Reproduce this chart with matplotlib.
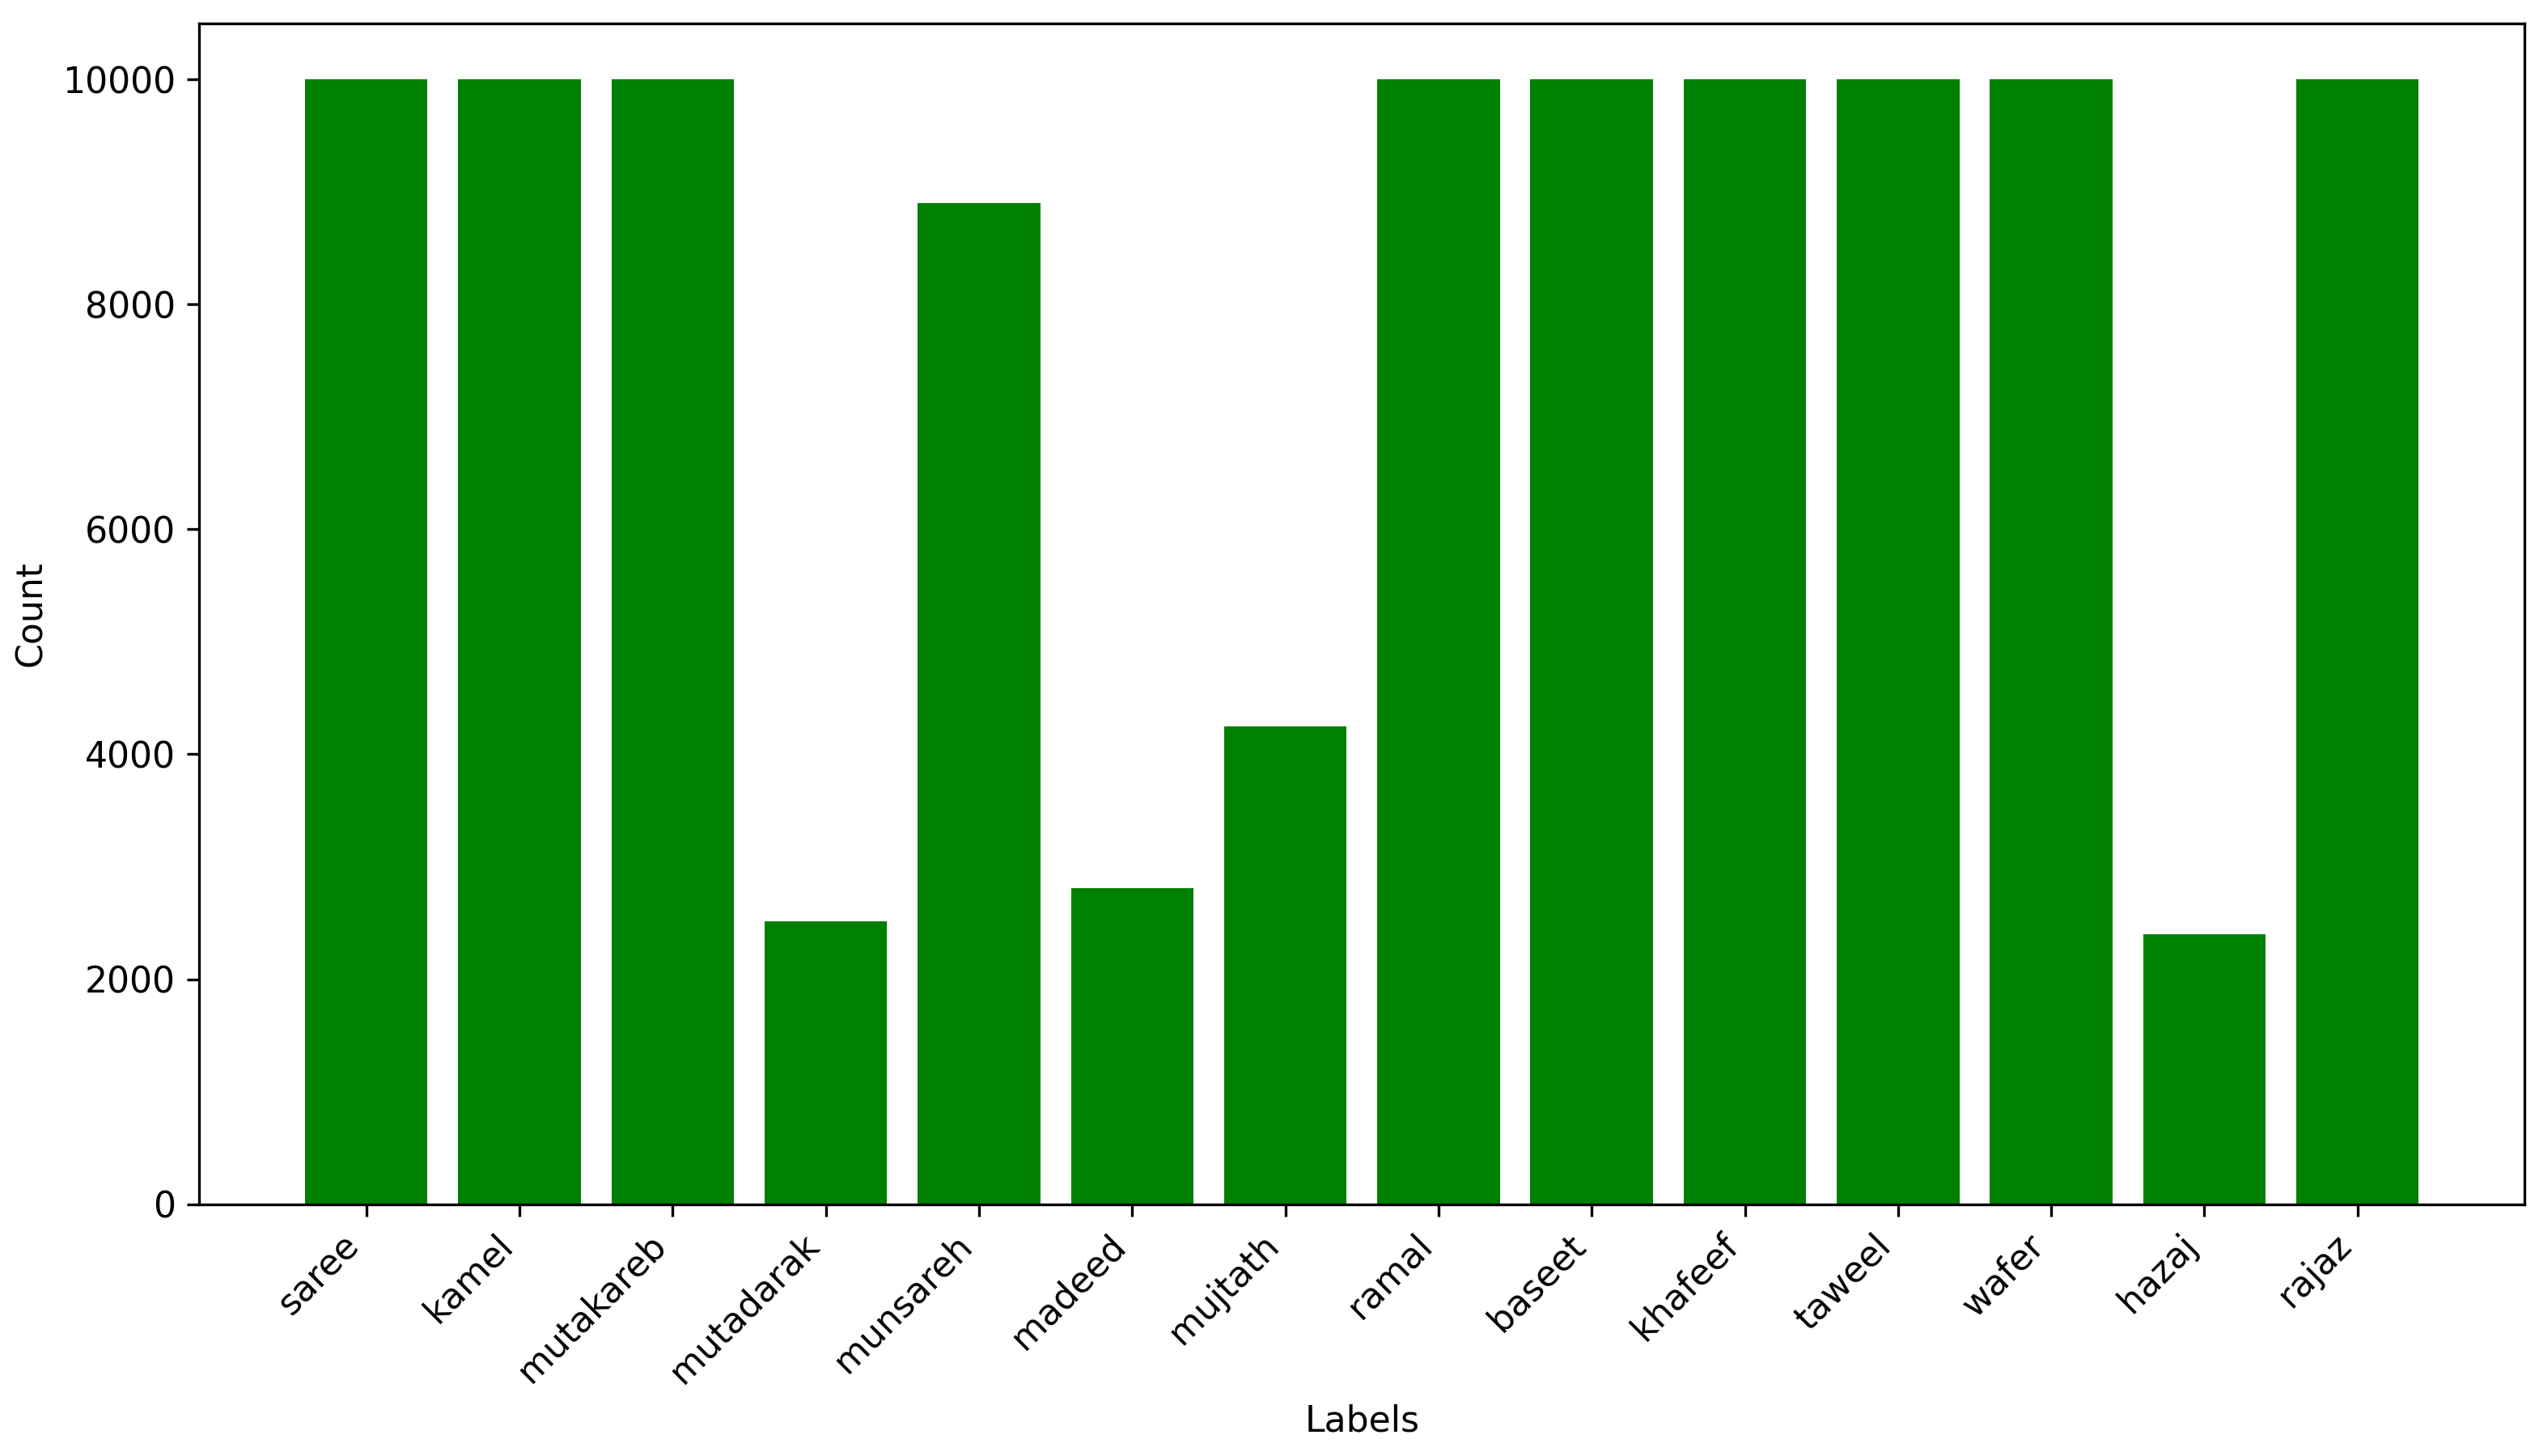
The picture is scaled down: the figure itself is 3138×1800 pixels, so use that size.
import numpy as np
import matplotlib
matplotlib.use("Agg")
import matplotlib.pyplot as plt

labels = ["saree", "kamel", "mutakareb", "mutadarak", "munsareh", "madeed", "mujtath",
          "ramal", "baseet", "khafeef", "taweel", "wafer", "hazaj", "rajaz"]
counts = [10000, 10000, 10000, 2518, 8900, 2813, 4245,
          10000, 10000, 10000, 10000, 10000, 2400, 10000]

plt.rcParams["font.size"] = 10.6

fig = plt.figure(figsize=(10.46, 6.0), dpi=300)
ax = fig.add_axes([0.0785, 0.173, 0.9158, 0.811])

x = np.arange(len(labels))
ax.bar(x, counts, color="green")

ax.set_xticks(x)
ax.set_xticklabels(labels, rotation=45, ha="right")
ax.set_xlabel("Labels")
ax.set_ylabel("Count")

plt.savefig("out.png", dpi=300)
